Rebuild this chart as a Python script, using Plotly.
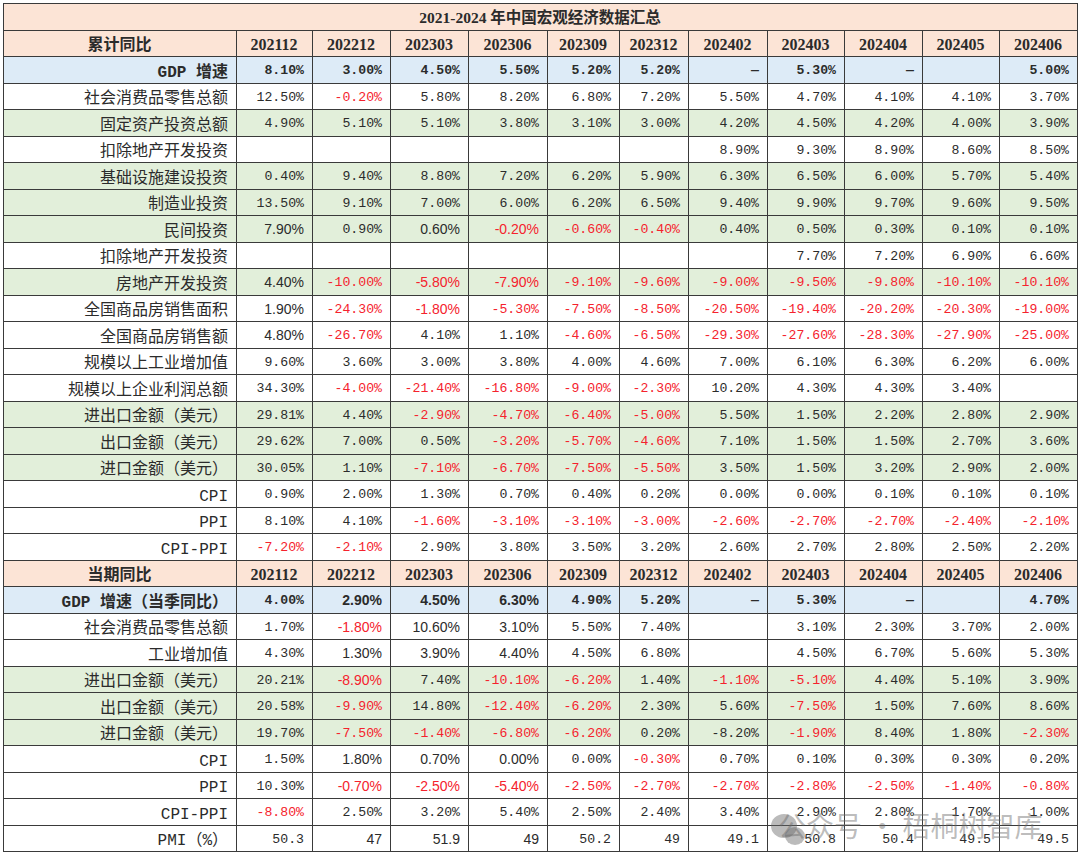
import plotly.graph_objects as go

# ---------------- data ----------------
title_text = "2021-2024 年中国宏观经济数据汇总"
periods = ["202112", "202212", "202303", "202306", "202309", "202312",
           "202402", "202403", "202404", "202405", "202406"]
sec1_title = "累计同比"
sec2_title = "当期同比"
DASH = "—"

# 累计同比
cum_labels = ["GDP 增速", "社会消费品零售总额", "固定资产投资总额", "扣除地产开发投资",
              "基础设施建设投资", "制造业投资", "民间投资", "扣除地产开发投资",
              "房地产开发投资", "全国商品房销售面积", "全国商品房销售额",
              "规模以上工业增加值", "规模以上企业利润总额", "进出口金额（美元）",
              "出口金额（美元）", "进口金额（美元）", "CPI", "PPI", "CPI-PPI"]
gdp_cum = [8.10, 3.00, 4.50, 5.50, 5.20, 5.20, DASH, 5.30, DASH, None, 5.00]
retail_cum = [12.50, -0.20, 5.80, 8.20, 6.80, 7.20, 5.50, 4.70, 4.10, 4.10, 3.70]
fai_cum = [4.90, 5.10, 5.10, 3.80, 3.10, 3.00, 4.20, 4.50, 4.20, 4.00, 3.90]
fai_ex_re_cum = [None, None, None, None, None, None, 8.90, 9.30, 8.90, 8.60, 8.50]
infra_cum = [0.40, 9.40, 8.80, 7.20, 6.20, 5.90, 6.30, 6.50, 6.00, 5.70, 5.40]
manuf_cum = [13.50, 9.10, 7.00, 6.00, 6.20, 6.50, 9.40, 9.90, 9.70, 9.60, 9.50]
private_cum = [7.90, 0.90, 0.60, -0.20, -0.60, -0.40, 0.40, 0.50, 0.30, 0.10, 0.10]
private_ex_re_cum = [None, None, None, None, None, None, None, 7.70, 7.20, 6.90, 6.60]
realestate_cum = [4.40, -10.00, -5.80, -7.90, -9.10, -9.60, -9.00, -9.50, -9.80, -10.10, -10.10]
house_area_cum = [1.90, -24.30, -1.80, -5.30, -7.50, -8.50, -20.50, -19.40, -20.20, -20.30, -19.00]
house_sales_cum = [4.80, -26.70, 4.10, 1.10, -4.60, -6.50, -29.30, -27.60, -28.30, -27.90, -25.00]
ind_value_cum = [9.60, 3.60, 3.00, 3.80, 4.00, 4.60, 7.00, 6.10, 6.30, 6.20, 6.00]
profit_cum = [34.30, -4.00, -21.40, -16.80, -9.00, -2.30, 10.20, 4.30, 4.30, 3.40, None]
trade_cum = [29.81, 4.40, -2.90, -4.70, -6.40, -5.00, 5.50, 1.50, 2.20, 2.80, 2.90]
export_cum = [29.62, 7.00, 0.50, -3.20, -5.70, -4.60, 7.10, 1.50, 1.50, 2.70, 3.60]
import_cum = [30.05, 1.10, -7.10, -6.70, -7.50, -5.50, 3.50, 1.50, 3.20, 2.90, 2.00]
cpi_cum = [0.90, 2.00, 1.30, 0.70, 0.40, 0.20, 0.00, 0.00, 0.10, 0.10, 0.10]
ppi_cum = [8.10, 4.10, -1.60, -3.10, -3.10, -3.00, -2.60, -2.70, -2.70, -2.40, -2.10]
cpi_ppi_cum = [-7.20, -2.10, 2.90, 3.80, 3.50, 3.20, 2.60, 2.70, 2.80, 2.50, 2.20]

# 当期同比
cur_labels = ["GDP 增速（当季同比）", "社会消费品零售总额", "工业增加值",
              "进出口金额（美元）", "出口金额（美元）", "进口金额（美元）",
              "CPI", "PPI", "CPI-PPI", "PMI（%）"]
gdp_cur = [4.00, 2.90, 4.50, 6.30, 4.90, 5.20, DASH, 5.30, DASH, None, 4.70]
retail_cur = [1.70, -1.80, 10.60, 3.10, 5.50, 7.40, None, 3.10, 2.30, 3.70, 2.00]
ind_value_cur = [4.30, 1.30, 3.90, 4.40, 4.50, 6.80, None, 4.50, 6.70, 5.60, 5.30]
trade_cur = [20.21, -8.90, 7.40, -10.10, -6.20, 1.40, -1.10, -5.10, 4.40, 5.10, 3.90]
export_cur = [20.58, -9.90, 14.80, -12.40, -6.20, 2.30, 5.60, -7.50, 1.50, 7.60, 8.60]
import_cur = [19.70, -7.50, -1.40, -6.80, -6.20, 0.20, -8.20, -1.90, 8.40, 1.80, -2.30]
cpi_cur = [1.50, 1.80, 0.70, 0.00, 0.00, -0.30, 0.70, 0.10, 0.30, 0.30, 0.20]
ppi_cur = [10.30, -0.70, -2.50, -5.40, -2.50, -2.70, -2.70, -2.80, -2.50, -1.40, -0.80]
cpi_ppi_cur = [-8.80, 2.50, 3.20, 5.40, 2.50, 2.40, 3.40, 2.90, 2.80, 1.70, 1.00]
pmi_cur = [50.3, 47, 51.9, 49, 50.2, 49, 49.1, 50.8, 50.4, 49.5, 49.5]

cum_rows = [gdp_cum, retail_cum, fai_cum, fai_ex_re_cum, infra_cum, manuf_cum,
            private_cum, private_ex_re_cum, realestate_cum, house_area_cum,
            house_sales_cum, ind_value_cum, profit_cum, trade_cum, export_cum,
            import_cum, cpi_cum, ppi_cum, cpi_ppi_cum]
cur_rows = [gdp_cur, retail_cur, ind_value_cur, trade_cur, export_cur,
            import_cur, cpi_cur, ppi_cur, cpi_ppi_cur, pmi_cur]

# ---------------- styles ----------------
PEACH, BLUE, GREEN, WHITE = "#FCE4D6", "#DDEBF7", "#E2EFDA", "#FFFFFF"
TXT, RED, LINE = "#2b2b2b", "#f5222d", "#3a3a3a"
cum_fill = [BLUE, WHITE, GREEN, WHITE, GREEN, GREEN, GREEN, WHITE, GREEN, WHITE,
            WHITE, WHITE, WHITE, GREEN, GREEN, GREEN, WHITE, WHITE, WHITE]
cur_fill = [BLUE, WHITE, WHITE, GREEN, GREEN, GREEN, WHITE, WHITE, WHITE, WHITE]
MONO = "Liberation Mono"
PROP = "Liberation Sans"
CJK = "Noto Sans CJK SC"
SERIF = "Liberation Serif"
# cells rendered in a proportional font in the source (section, row, col)
prop_cells = {("c", 6, 1), ("c", 6, 3), ("c", 6, 4), ("c", 8, 1), ("c", 8, 3),
              ("c", 8, 4), ("c", 9, 1), ("c", 9, 3), ("c", 10, 1),
              ("p", 0, 2), ("p", 0, 3), ("p", 0, 4), ("p", 1, 2), ("p", 1, 3),
              ("p", 1, 4), ("p", 2, 2), ("p", 2, 3), ("p", 2, 4), ("p", 3, 2),
              ("p", 6, 2), ("p", 6, 3), ("p", 6, 4), ("p", 7, 2), ("p", 7, 3),
              ("p", 7, 4), ("p", 9, 2), ("p", 9, 3), ("p", 9, 4)}
black_neg = {("p", 5, 7)}

# ---------------- geometry ----------------
W, H = 1080, 863
ML, MR, MT, MB = 3, 3, 3, 10
TOP = 3.5
ROWH = 26.5
col_w = [233, 76, 78, 78, 79, 72, 69, 79, 77, 78, 77, 78]
plot_h = H - MT - MB
plot_w = W - ML - MR


def px_x(x):
    return (x - ML) / plot_w


def px_y(y):
    return 1 - (y - MT) / plot_h


def fmt(v, pmi=False):
    if v is None:
        return ""
    if isinstance(v, str):
        return v
    return f"{v:g}" if pmi else f"{v:.2f}%"


def row_table(idx, values, fill, families, sizes, colors, aligns, weight="normal"):
    top = TOP + idx * ROWH
    return go.Table(
        columnwidth=col_w if len(values) > 1 else [1],
        header=dict(
            values=values,
            fill_color=fill,
            line=dict(color=LINE, width=1),
            align=aligns,
            height=ROWH,
            font=dict(family=families, size=sizes, color=colors, weight=weight),
        ),
        cells=dict(values=[]),
        domain=dict(x=[0, 1], y=[max(0.0, px_y(top + ROWH + 2)), min(1.0, px_y(top))]),
    )


traces = []
# title row
traces.append(row_table(0, [title_text], PEACH, [SERIF + ", " + CJK], [15.5], [TXT],
                        ["center"], weight="bold"))


def header_row(idx, sec_title):
    return row_table(idx, [sec_title] + periods, PEACH,
                     [CJK] + [SERIF] * len(periods),
                     [16] + [16] * len(periods), [TXT] * (len(periods) + 1),
                     ["center"] * (len(periods) + 1), weight="bold")


def data_row(idx, sec, ri, label, vals, fill, bold=False, pmi=False):
    values, fams, sizes, colors = [label], [MONO + ", " + CJK], [16], [TXT]
    for j, v in enumerate(vals):
        c = j + 1
        values.append(fmt(v, pmi))
        neg = isinstance(v, (int, float)) and v < 0 and (sec, ri, c) not in black_neg
        colors.append(RED if neg else TXT)
        prop = (sec, ri, c) in prop_cells
        fams.append(PROP if prop else MONO)
        sizes.append(14 if prop else 13.2)
    return row_table(idx, values, fill, fams, sizes, colors,
                     ["right"] * len(values), weight="bold" if bold else "normal")


idx = 1
traces.append(header_row(idx, sec1_title))
idx += 1
for i, (lab, vals) in enumerate(zip(cum_labels, cum_rows)):
    traces.append(data_row(idx, "c", i, lab, vals, cum_fill[i], bold=(i == 0)))
    idx += 1
traces.append(header_row(idx, sec2_title))
idx += 1
for i, (lab, vals) in enumerate(zip(cur_labels, cur_rows)):
    traces.append(data_row(idx, "p", i, lab, vals, cur_fill[i], bold=(i == 0),
                           pmi=(i == len(cur_rows) - 1)))
    idx += 1

fig = go.Figure(traces)

# watermark (WeChat-style icon + account name)
WM = "rgba(105,105,105,0.45)"
fig.add_shape(type="circle", xref="paper", yref="paper",
              x0=px_x(771), x1=px_x(797), y0=px_y(838), y1=px_y(814),
              fillcolor=WM, line=dict(width=0), layer="above")
fig.add_shape(type="circle", xref="paper", yref="paper",
              x0=px_x(785), x1=px_x(805), y0=px_y(845), y1=px_y(827),
              fillcolor=WM, line=dict(width=0), layer="above")
fig.add_annotation(text="公众号 · 梧桐树智库", xref="paper", yref="paper",
                   x=px_x(910), y=px_y(825), xanchor="center", yanchor="middle",
                   showarrow=False,
                   font=dict(family=CJK, size=28, color=WM))

fig.update_layout(
    width=W, height=H, autosize=False,
    margin=dict(l=ML, r=MR, t=MT, b=MB, pad=0),
    paper_bgcolor="white", plot_bgcolor="white",
)

fig.write_html("out.html", post_script="document.body.style.margin='0';",
               config={"displayModeBar": False})
